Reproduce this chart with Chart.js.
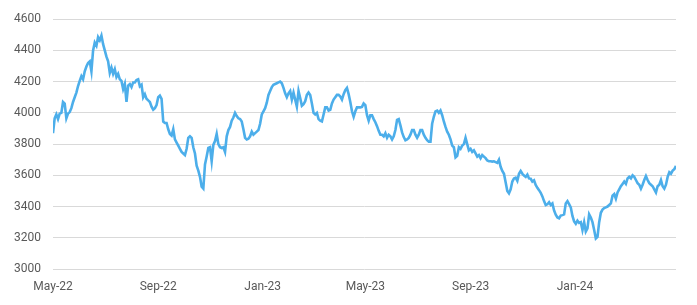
<!DOCTYPE html>
<html>
<head>
<meta charset="utf-8">
<script src="https://cdn.jsdelivr.net/npm/chart.js@4/dist/chart.umd.min.js"></script>
<style>
  html, body { margin: 0; padding: 0; background: #fff; }
  #wrap { width: 697px; height: 305px; position: relative; }
</style>
</head>
<body>
<div id="wrap"><canvas id="lineChart"></canvas></div>
<script>
// Serie de precios, muestreada a intervalos regulares desde 2022-05-01 hasta 2024-04-28
const startDate = '2022-05-01';
const totalDays = 728;

const tickLabels = ['May-22', 'Sep-22', 'Jan-23', 'May-23', 'Sep-23', 'Jan-24'];
const tickDays = [0, 123, 245, 365, 488, 610]; // días desde startDate

const prices = [
  3870, 3965, 3990, 3960, 3995, 4000, 4070, 4060, 3965, 3995, 4005, 4030, 4070, 4100, 4130, 4172,
  4205, 4235, 4215, 4266, 4297, 4320, 4330, 4266, 4400, 4450, 4430, 4485, 4465, 4495, 4440, 4400,
  4360, 4330, 4256, 4290, 4250, 4280, 4230, 4250, 4215, 4205, 4152, 4185, 4070, 4175, 4185, 4165,
  4195, 4195, 4210, 4215, 4170, 4180, 4100, 4120, 4090, 4080, 4070, 4040, 4020, 4030, 4050, 4100,
  4110, 4090, 3944, 3935, 3935, 3895, 3865, 3855, 3895, 3830, 3810, 3790, 3770, 3750, 3740, 3730,
  3770, 3840, 3850, 3840, 3780, 3740, 3662, 3630, 3590, 3527, 3515, 3670, 3720, 3775, 3780, 3690,
  3795, 3820, 3865, 3800, 3780, 3775, 3780, 3750, 3850, 3890, 3910, 3950, 3970, 4000, 3980, 3965,
  3960, 3945, 3895, 3840, 3830, 3835, 3850, 3880, 3860, 3870, 3880, 3890, 3930, 3990, 4010, 4030,
  4065, 4115, 4140, 4165, 4180, 4185, 4190, 4195, 4200, 4190, 4160, 4125, 4100, 4125, 4140, 4085,
  4130, 4085, 4040, 4140, 4095, 4045, 4055, 4075, 4115, 4130, 4115, 4060, 4000, 3990, 4000, 3960,
  3950, 3945, 3990, 4035, 4035, 4015, 4020, 4060, 4085, 4100, 4115, 4115, 4105, 4085, 4120, 4145,
  4160, 4120, 4070, 4010, 3975, 4010, 4035, 4035, 4035, 4038, 4060, 4050, 3985, 3950, 3985, 3985,
  3960, 3940, 3915, 3885, 3860, 3860, 3850, 3870, 3840, 3860, 3850, 3830, 3850, 3890, 3955, 3960,
  3920, 3875, 3845, 3825, 3830, 3840, 3860, 3890, 3890, 3860, 3840, 3860, 3890, 3890, 3860, 3840,
  3825, 3815, 3815, 3930, 3975, 4010, 4015, 4000, 4015, 3985, 3945, 3910, 3880, 3860, 3830, 3790,
  3780, 3715, 3725, 3780, 3770, 3790, 3800, 3840, 3800, 3760, 3770, 3750, 3760, 3740, 3720, 3730,
  3710, 3730, 3720, 3710, 3695, 3690, 3690, 3688, 3690, 3685, 3680, 3700, 3655, 3628, 3610, 3555,
  3500, 3485, 3510, 3560, 3580, 3585, 3565, 3610, 3628, 3610, 3598, 3590, 3605, 3580, 3578, 3560,
  3568, 3538, 3520, 3505, 3488, 3465, 3435, 3410, 3415, 3428, 3410, 3420, 3375, 3348, 3330, 3325,
  3342, 3345, 3350, 3420, 3435, 3415, 3395, 3340, 3305, 3290, 3310, 3295, 3300, 3250, 3300, 3240,
  3260, 3350, 3330, 3300, 3250, 3195, 3205, 3300, 3360, 3380, 3390, 3395, 3400, 3410, 3420, 3470,
  3480, 3450, 3490, 3510, 3530, 3545, 3560, 3545, 3580, 3590, 3580, 3600, 3590, 3570, 3550, 3540,
  3515, 3540, 3570, 3595, 3570, 3550, 3540, 3530, 3510, 3490, 3530, 3540, 3570, 3530, 3515, 3540,
  3590, 3620, 3610, 3630, 3640, 3660
];

const yMin = 3000;
const yMax = 4600;
const yStep = 200;

// Puntos con posición temporal (días) repartidos uniformemente en el periodo
const step = totalDays / (prices.length - 1);
const points = prices.map((v, i) => ({ x: i * step, y: v }));

const ctx = document.getElementById('lineChart');

new Chart(ctx, {
    type: 'line',
    data: {
        datasets: [{
            label: 'Precio',
            data: points,
            borderColor: '#4caeea',
            borderWidth: 2.6,
            pointRadius: 0,
            tension: 0,
            fill: false
        }]
    },
    options: {
        responsive: true,
        maintainAspectRatio: false,
        animation: false,
        layout: {
            padding: { top: 3, right: 21, bottom: 0, left: 0 }
        },
        plugins: {
            legend: { display: false },
            tooltip: { enabled: false }
        },
        scales: {
            x: {
                type: 'linear',
                min: 0,
                max: totalDays,
                grid: { display: false },
                border: { display: false },
                afterBuildTicks: (scale) => {
                    scale.ticks = tickDays.map(d => ({ value: d }));
                },
                afterFit: (scale) => { scale.height = 36; },
                ticks: {
                    autoSkip: false,
                    maxRotation: 0,
                    color: '#595959',
                    padding: 3,
                    font: { family: 'Roboto', size: 12 },
                    callback: (value) => {
                        const idx = tickDays.indexOf(value);
                        return idx >= 0 ? tickLabels[idx] : '';
                    }
                }
            },
            y: {
                min: yMin,
                max: yMax,
                grid: { color: '#d9d9d9', lineWidth: 1, drawTicks: false },
                border: { display: false },
                afterFit: (scale) => { scale.width = 53; },
                ticks: {
                    stepSize: yStep,
                    color: '#595959',
                    padding: 12,
                    font: { family: 'Roboto', size: 12 },
                    callback: (value) => String(value)
                }
            }
        }
    }
});
</script>
</body>
</html>
